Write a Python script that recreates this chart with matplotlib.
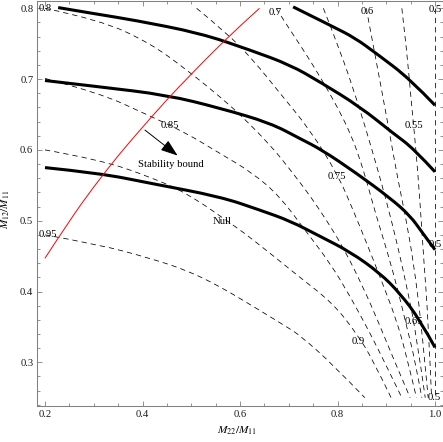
import matplotlib

matplotlib.use('Agg')
from matplotlib import pyplot as plt
from matplotlib.path import Path
from matplotlib.patches import PathPatch
from matplotlib.ticker import MultipleLocator, FormatStrFormatter

plt.rcParams['font.family'] = ['Liberation Serif', 'DejaVu Serif']
plt.rcParams['mathtext.fontset'] = 'stix'
plt.rcParams['lines.scale_dashes'] = False

# dashed contours (value -> traced points)
dash_095_x = [0.200, 0.313, 0.415, 0.491, 0.559, 0.627, 0.696, 0.723, 0.789, 0.856]
dash_095_y = [0.480, 0.466, 0.447, 0.430, 0.407, 0.379, 0.350, 0.338, 0.298, 0.250]
dash_090_x = [0.200, 0.313, 0.415, 0.491, 0.586, 0.627, 0.696, 0.723, 0.791, 0.839, 0.873, 0.910]
dash_090_y = [0.600, 0.586, 0.562, 0.539, 0.494, 0.473, 0.435, 0.420, 0.383, 0.341, 0.303, 0.250]
dash_085_x = [0.200, 0.313, 0.402, 0.484, 0.559, 0.627, 0.682, 0.733, 0.785, 0.826, 0.867, 0.901, 0.932]
dash_085_y = [0.701, 0.680, 0.652, 0.626, 0.595, 0.567, 0.534, 0.487, 0.440, 0.393, 0.341, 0.294, 0.250]
dash_080_x = [0.200, 0.313, 0.415, 0.491, 0.559, 0.600, 0.662, 0.703, 0.744, 0.778, 0.812, 0.852, 0.885, 0.916, 0.949]
dash_080_y = [0.800, 0.7835, 0.751, 0.713, 0.675, 0.650, 0.607, 0.572, 0.535, 0.500, 0.462, 0.407, 0.355, 0.303, 0.250]
dash_075_x = [0.511, 0.573, 0.627, 0.682, 0.744, 0.801, 0.832, 0.860, 0.887, 0.921, 0.942, 0.962]
dash_075_y = [0.800, 0.765, 0.727, 0.680, 0.628, 0.5645, 0.515, 0.468, 0.421, 0.360, 0.308, 0.250]
dash_070_x = [0.674, 0.703, 0.733, 0.768, 0.801, 0.828, 0.848, 0.865, 0.879, 0.901, 0.924, 0.942, 0.959, 0.973]
dash_070_y = [0.800, 0.769, 0.738, 0.699, 0.659, 0.621, 0.583, 0.543, 0.508, 0.459, 0.402, 0.350, 0.303, 0.250]
dash_065_x = [0.771, 0.805, 0.840, 0.871, 0.900, 0.924, 0.945, 0.961, 0.980]
dash_065_y = [0.800, 0.741, 0.6705, 0.600, 0.529, 0.463, 0.3975, 0.341, 0.250]
dash_060_x = [0.859, 0.879, 0.902, 0.924, 0.945, 0.961, 0.973, 0.986]
dash_060_y = [0.800, 0.727, 0.642, 0.5575, 0.487, 0.416, 0.346, 0.250]
dash_055_x = [0.932, 0.942, 0.951, 0.961, 0.969, 0.977, 0.986, 0.993]
dash_055_y = [0.800, 0.741, 0.6705, 0.600, 0.529, 0.4445, 0.360, 0.250]
dash_050_x = [1.0, 1.0]
dash_050_y = [0.800, 0.250]

# thick solid curves
thick_a_x = [0.709, 0.791, 0.836, 0.880, 0.949, 1.0]
thick_a_y = [0.802, 0.774, 0.758, 0.736, 0.700, 0.663]
thick_b_x = [0.227, 0.313, 0.381, 0.518, 0.621, 0.703, 0.764, 0.846, 0.915, 0.956, 1.0]
thick_b_y = [0.801, 0.791, 0.7835, 0.765, 0.741, 0.720, 0.696, 0.661, 0.623, 0.602, 0.569]
thick_c_x = [0.200, 0.313, 0.450, 0.559, 0.662, 0.723, 0.768, 0.839, 0.908, 0.949, 0.973, 1.0]
thick_c_y = [0.698, 0.689, 0.6775, 0.659, 0.638, 0.616, 0.600, 0.567, 0.532, 0.507, 0.484, 0.459]
thick_d_x = [0.200, 0.313, 0.415, 0.559, 0.641, 0.703, 0.764, 0.826, 0.887, 0.928, 0.969, 1.0]
thick_d_y = [0.575, 0.567, 0.553, 0.534, 0.515, 0.4996, 0.478, 0.456, 0.426, 0.3975, 0.360, 0.321]

# stability bound (red)
bound_x = [0.20, 0.25, 0.30, 0.35, 0.40, 0.45, 0.50, 0.55, 0.60, 0.64]
bound_y = [0.447, 0.500, 0.548, 0.592, 0.632, 0.671, 0.707, 0.742, 0.775, 0.800]

# contour labels
label_text = ["0.8", "0.85", "0.95", "0.7", "0.6", "0.5", "0.55", "0.75", "0.5", "0.65", "0.9", "0.5", "Null"]
label_x = [0.201, 0.456, 0.206, 0.672, 0.860, 1.0, 0.957, 0.799, 1.0, 0.957, 0.842, 0.998, 0.5625]
label_y = [0.800, 0.635, 0.481, 0.794, 0.796, 0.798, 0.634, 0.562, 0.466, 0.358, 0.330, 0.251, 0.4986]

dashed = [(dash_095_x, dash_095_y), (dash_090_x, dash_090_y), (dash_085_x, dash_085_y),
          (dash_080_x, dash_080_y), (dash_075_x, dash_075_y), (dash_070_x, dash_070_y),
          (dash_065_x, dash_065_y), (dash_060_x, dash_060_y), (dash_055_x, dash_055_y),
          (dash_050_x, dash_050_y)]
thick = [(thick_a_x, thick_a_y), (thick_b_x, thick_b_y), (thick_c_x, thick_c_y), (thick_d_x, thick_d_y)]


def smooth_path(xs, ys):
    """Quadratic bezier through the midpoints, so traced corners get rounded off"""
    pts = list(zip(xs, ys))
    if len(pts) < 3:
        return Path(pts, [Path.MOVETO] + [Path.LINETO] * (len(pts) - 1))
    verts = [pts[0]]
    codes = [Path.MOVETO]
    for i in range(1, len(pts) - 1):
        mid = ((pts[i][0] + pts[i + 1][0]) / 2, (pts[i][1] + pts[i + 1][1]) / 2)
        if i == len(pts) - 2:
            mid = pts[-1]
        verts += [pts[i], mid]
        codes += [Path.CURVE3, Path.CURVE3]
    return Path(verts, codes)


fig = plt.figure(figsize=(4.43, 4.42), dpi=100)
ax = fig.add_axes([37.3 / 443, 36.5 / 442, 405.5 / 443, 405.0 / 442])

for xs, ys in dashed:
    ax.add_patch(PathPatch(smooth_path(xs, ys), fill=False, edgecolor='k', lw=0.55,
                           linestyle=(0, (3.8, 2.9)), zorder=2))
for xs, ys in thick:
    ax.add_patch(PathPatch(smooth_path(xs, ys), fill=False, edgecolor='k', lw=2.2,
                           capstyle='butt', zorder=3))
ax.add_patch(PathPatch(smooth_path(bound_x, bound_y), fill=False, edgecolor='red', lw=0.7, zorder=4))

for t, x, y in zip(label_text, label_x, label_y):
    ax.text(x, y, t, fontsize=7.7, ha='center', va='center', zorder=5)

ax.text(0.4585, 0.5797, "Stability bound", fontsize=7.7, ha='center', va='center', zorder=5)
ax.annotate('', xy=(0.472, 0.592), xytext=(0.405, 0.628),
            arrowprops=dict(arrowstyle='-|>,head_length=0.7,head_width=0.25', color='k',
                            lw=0.7, mutation_scale=15, shrinkA=0, shrinkB=0), zorder=5)

ax.set_xlim(0.1842, 1.016)
ax.set_ylim(0.239, 0.811)
ax.xaxis.set_major_locator(MultipleLocator(0.2))
ax.xaxis.set_minor_locator(MultipleLocator(0.05))
ax.yaxis.set_major_locator(MultipleLocator(0.1))
ax.yaxis.set_minor_locator(MultipleLocator(0.02))
ax.xaxis.set_major_formatter(FormatStrFormatter('%.1f'))
ax.yaxis.set_major_formatter(FormatStrFormatter('%.1f'))
ax.tick_params(which='both', direction='in', top=True, right=True, colors='#808080',
               labelcolor='#1a1a1a', labelsize=7.7, width=0.6)
ax.tick_params(which='major', length=3.6)
ax.tick_params(which='minor', length=2.0)
ax.tick_params(axis='x', pad=3.5)
ax.tick_params(axis='y', pad=2.9)
for s in ax.spines.values():
    s.set_color('#808080')
    s.set_linewidth(0.75)

ax.set_xlabel(r'$M_{22}/M_{11}$', fontsize=8.2)
ax.set_ylabel(r'$M_{12}/M_{11}$', fontsize=8.0)
ax.xaxis.set_label_coords(0.4925, -0.048)
ax.yaxis.set_label_coords(-0.062, 0.483)

fig.savefig('out.png', dpi=100)
